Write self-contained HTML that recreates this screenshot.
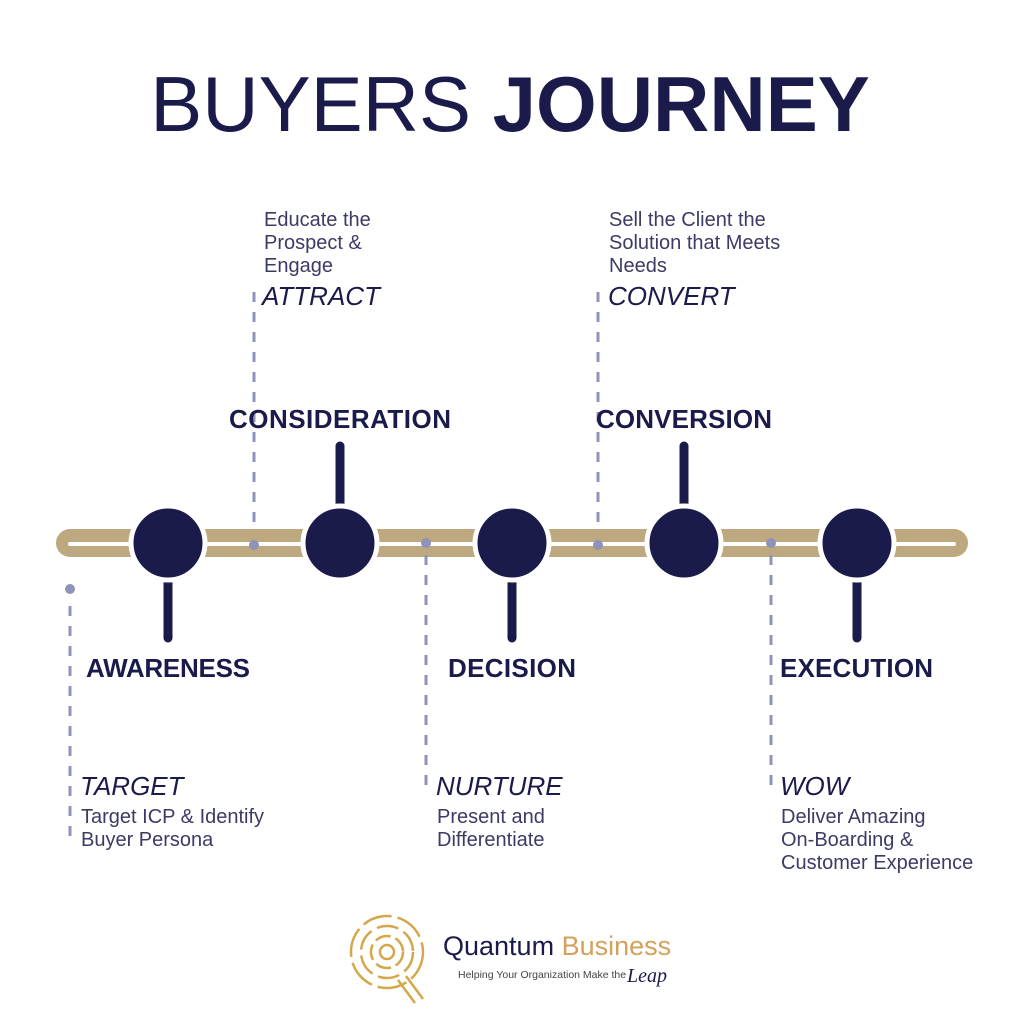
<!DOCTYPE html>
<html><head><meta charset="utf-8"><style>
html,body{margin:0;padding:0;background:#fff;width:1024px;height:1024px;overflow:hidden}
svg{display:block}
.t{font-family:"Liberation Sans",sans-serif;fill:#1b1b4b}
.l{font-weight:bold;font-size:26px}
.i{font-style:italic;font-size:26px}
.s{font-size:20px;fill:#3b3b66}
</style></head><body>
<svg width="1024" height="1024" viewBox="0 0 1024 1024">
<text x="510" y="131" text-anchor="middle" class="t" style="font-size:78px"><tspan style="font-weight:normal">BUYERS </tspan><tspan style="font-weight:bold">JOURNEY</tspan></text>
<!-- track -->
<line x1="70" y1="543" x2="954" y2="543" stroke="#bea880" stroke-width="28" stroke-linecap="round"/>
<line x1="70" y1="544" x2="954" y2="544" stroke="#fff" stroke-width="4" stroke-linecap="round"/>
<!-- dashed -->
<g stroke="#8f93b9" stroke-width="3" stroke-dasharray="10,10" fill="none">
<line x1="254" y1="292" x2="254" y2="530"/>
<line x1="598" y1="292" x2="598" y2="530"/>
<line x1="70" y1="606" x2="70" y2="845"/>
<line x1="426" y1="555" x2="426" y2="790"/>
<line x1="771" y1="555" x2="771" y2="790"/>
</g>
<g fill="#8f93b9">
<circle cx="254" cy="545" r="5"/><circle cx="426" cy="543" r="5"/><circle cx="598" cy="545" r="5"/><circle cx="771" cy="543" r="5"/><circle cx="70" cy="589" r="5"/>
</g>
<!-- stems + circles -->
<g stroke="#1b1b4b" stroke-width="9" stroke-linecap="round">
<line x1="168" y1="543" x2="168" y2="638"/>
<line x1="340" y1="446" x2="340" y2="543"/>
<line x1="512" y1="543" x2="512" y2="638"/>
<line x1="684" y1="446" x2="684" y2="543"/>
<line x1="857" y1="543" x2="857" y2="638"/>
</g>
<g fill="#1b1b4b" stroke="#fff" stroke-width="5">
<circle cx="168" cy="543" r="37"/><circle cx="340" cy="543" r="37"/><circle cx="512" cy="543" r="37"/><circle cx="684" cy="543" r="37"/><circle cx="857" cy="543" r="37"/>
</g>
<!-- labels -->
<text x="229" y="428" class="t l" textLength="222">CONSIDERATION</text>
<text x="596" y="428" class="t l" textLength="176">CONVERSION</text>
<text x="86" y="677" class="t l" textLength="164">AWARENESS</text>
<text x="448" y="677" class="t l" textLength="128">DECISION</text>
<text x="780" y="677" class="t l" textLength="153">EXECUTION</text>
<text x="262" y="305" class="t i">ATTRACT</text>
<text x="608" y="305" class="t i">CONVERT</text>
<text x="80" y="795" class="t i">TARGET</text>
<text x="436" y="795" class="t i">NURTURE</text>
<text x="780" y="795" class="t i">WOW</text>
<g class="t s">
<text x="264" y="226">Educate the</text><text x="264" y="249">Prospect &amp;</text><text x="264" y="272">Engage</text>
<text x="609" y="226">Sell the Client the</text><text x="609" y="249">Solution that Meets</text><text x="609" y="272">Needs</text>
<text x="81" y="823">Target ICP &amp; Identify</text><text x="81" y="846">Buyer Persona</text>
<text x="437" y="823">Present and</text><text x="437" y="846">Differentiate</text>
<text x="781" y="823">Deliver Amazing</text><text x="781" y="846">On-Boarding &amp;</text><text x="781" y="869">Customer Experience</text>
</g>
<!-- logo -->
<g fill="none" stroke="#d4a84a" stroke-width="2.5">
<circle cx="387" cy="952" r="36" stroke-dasharray="30,6"/>
<circle cx="387" cy="952" r="26" stroke-dasharray="22,6"/>
<circle cx="387" cy="952" r="16" stroke-dasharray="16,5"/>
<circle cx="387" cy="952" r="7"/>
<path d="M398 980 L415 1003 M406 976 L423 999"/>
</g>
<text x="443" y="955" style="font-family:'Liberation Sans',sans-serif;font-size:27px;fill:#1b1b4b">Quantum <tspan fill="#d4a05a">Business</tspan></text>
<text x="458" y="978" style="font-family:'Liberation Sans',sans-serif;font-size:10.5px;fill:#444">Helping Your Organization Make the</text>
<text x="627" y="982" style="font-family:'Liberation Serif',serif;font-style:italic;font-size:20px;fill:#1b1b4b">Leap</text>
</svg>
</body></html>
